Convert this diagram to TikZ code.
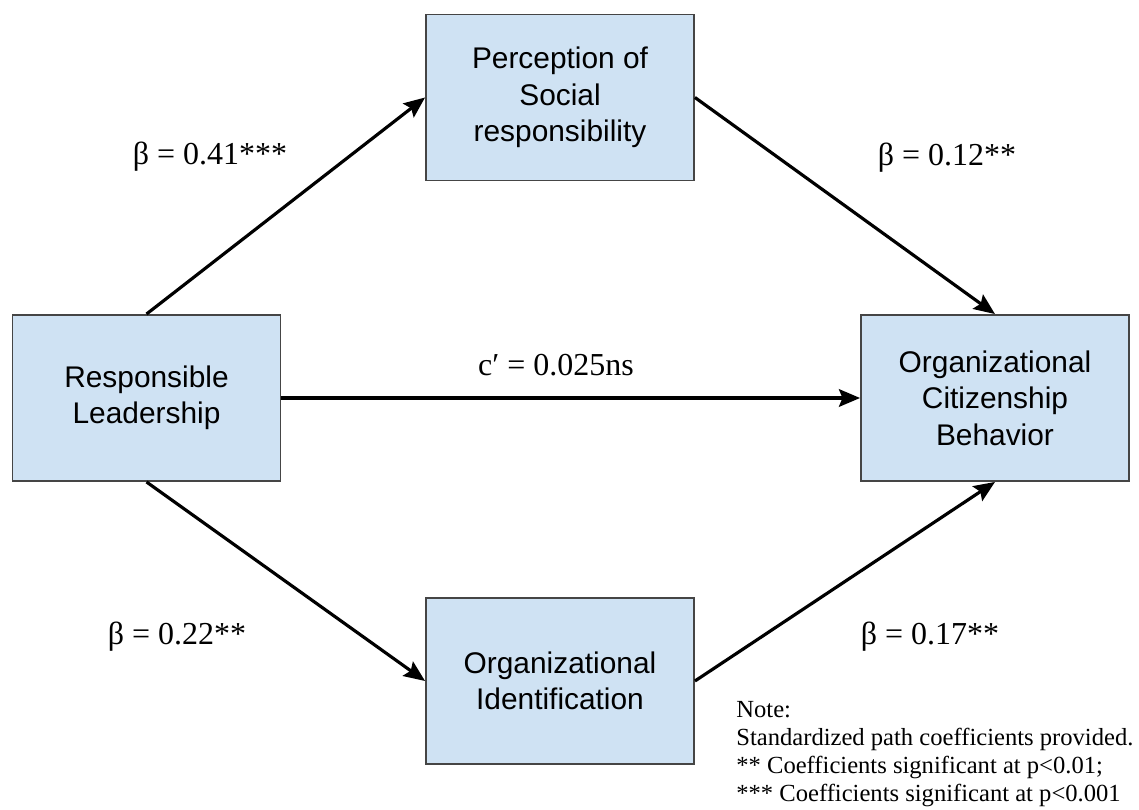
\documentclass[tikz,border=0pt]{standalone}
\usepackage{fontspec}
\setmainfont{Liberation Serif}
\newfontfamily\boxfont{Liberation Sans}
\usetikzlibrary{calc}
\usetikzlibrary{arrows.meta}
\definecolor{boxblue}{HTML}{CFE2F3}
\definecolor{boxline}{HTML}{454545}

\begin{document}
\begin{tikzpicture} [x=.02cm, y=-.02cm,
  var/.style={draw=boxline, line width=1.1pt, fill=boxblue, minimum width=5.36cm, minimum height=3.32cm, inner sep=0pt, align=center, font=\boxfont\fontsize{17}{20.8}\selectfont},
  link/.style={line width=1.8pt, -{Stealth[length=12pt, width=10pt, inset=2pt]}},
  coef/.style={inner sep=0pt, font=\fontsize{18.2}{22}\selectfont}]
\useasboundingbox (0,0) rectangle (1139,810);

\node[var] (perc) at (560,97.5) {Perception of\\Social\\responsibility};
\node[var] (rl) at (146.5,398) {Responsible\\Leadership};
\node[var] (ocb) at (995,398) {Organizational\\Citizenship\\Behavior};
\node[var] (oi) at (560,681) {Organizational\\Identification};

\foreach \a/\b in {rl.north/perc.west, perc.east/ocb.north, rl.east/ocb.west, rl.south/oi.west, oi.east/ocb.south} \draw[link] (\a) -- (\b);

\node[coef] (b41) at (210,157) {β = 0.41***};
\node[coef] (b12) at (947,158) {β = 0.12**};
\node[coef] (cp) at (556,365) {c′ = 0.025ns};
\node[coef] (b22) at (177,637) {β = 0.22**};
\node[coef] (b17) at (930,637) {β = 0.17**};

\node[anchor=north west, inner sep=0pt, align=left, font=\fontsize{14}{15.9}\selectfont] (note) at (736,701) {Note:\\Standardized path coefficients provided.\\** Coefficients significant at p<0.01;\\*** Coefficients significant at p<0.001};

\end{tikzpicture}
\end{document}
